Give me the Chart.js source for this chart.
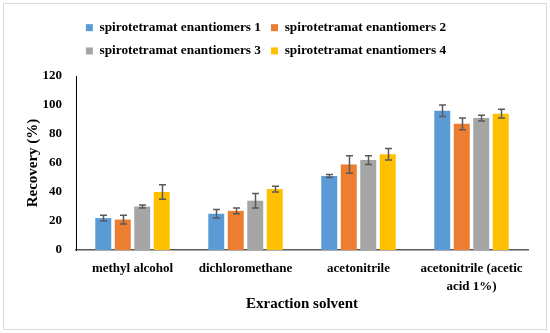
<!DOCTYPE html>
<html lang="en">
<head>
<meta charset="UTF-8">
<title>Recovery by extraction solvent</title>
<script src="https://cdn.jsdelivr.net/npm/chart.js"></script>
<style>
  html, body { margin: 0; padding: 0; background: #fff; }
  .wrap { width: 550px; height: 333px; position: relative; }
</style>
</head>
<body>
<div class="wrap"><canvas id="chart" width="550" height="333"></canvas></div>
<script>
var solvents = ['methyl alcohol', 'dichloromethane', 'acetonitrile', ['acetonitrile (acetic', 'acid 1%)']];
var seriesNames = ['spirotetramat enantiomers 1', 'spirotetramat enantiomers 2', 'spirotetramat enantiomers 3', 'spirotetramat enantiomers 4'];
var recovery1 = [22, 25, 51, 96];
var recovery2 = [21, 27, 59, 87];
var recovery3 = [30, 34, 62, 91];
var recovery4 = [40, 42, 66, 94];
var error1 = [2, 3, 1, 4];
var error2 = [3, 2, 6, 4];
var error3 = [1, 5, 3, 2];
var error4 = [5, 2, 4, 3];
var yTicks = [0, 20, 40, 60, 80, 100, 120];

var colors = ['#5B9BD5', '#ED7D31', '#A5A5A5', '#FFC000'];
var values = [recovery1, recovery2, recovery3, recovery4];
var errors = [error1, error2, error3, error4];

var datasets = seriesNames.map(function(name, i) {
  return {
    label: name,
    data: values[i],
    errors: errors[i],
    backgroundColor: colors[i],
    borderWidth: 0,
    categoryPercentage: 0.69,
    barPercentage: 0.82
  };
});

// kotak tepi luar gambar
var frame = {
  id: 'frame',
  beforeDraw: function(chart) {
    var ctx = chart.ctx;
    ctx.save();
    ctx.fillStyle = '#fff';
    ctx.fillRect(0, 0, chart.width, chart.height);
    ctx.strokeStyle = '#d9d9d9';
    ctx.lineWidth = 1;
    ctx.strokeRect(3.5, 3.5, 543, 326);
    ctx.restore();
  }
};

// tinggi legenda tetap supaya area plot mulai di y=76
var legendHeight = {
  id: 'legendHeight',
  beforeInit: function(chart) {
    var fit = chart.legend.fit;
    chart.legend.fit = function() {
      fit.call(this);
      this.height = 65;
    };
  }
};

// garis error bar
var errorBars = {
  id: 'errorBars',
  afterDatasetsDraw: function(chart) {
    var ctx = chart.ctx;
    var y = chart.scales.y;
    ctx.save();
    ctx.strokeStyle = '#595959';
    ctx.lineWidth = 1.5;
    chart.data.datasets.forEach(function(ds, i) {
      var meta = chart.getDatasetMeta(i);
      meta.data.forEach(function(bar, j) {
        var v = ds.data[j], e = ds.errors[j];
        var x = Math.round(bar.x) + 0.5;
        var top = y.getPixelForValue(v + e);
        var bot = y.getPixelForValue(v - e);
        ctx.beginPath();
        ctx.moveTo(x, top); ctx.lineTo(x, bot);
        ctx.moveTo(x - 3.5, top); ctx.lineTo(x + 3.5, top);
        ctx.moveTo(x - 3.5, bot); ctx.lineTo(x + 3.5, bot);
        ctx.stroke();
      });
    });
    ctx.restore();
  }
};

var serif = "'Liberation Serif', 'Times New Roman', serif";

new Chart(document.getElementById('chart'), {
  type: 'bar',
  data: { labels: solvents, datasets: datasets },
  plugins: [frame, legendHeight, errorBars],
  options: {
    responsive: false,
    animation: false,
    layout: { padding: { left: 4, right: 22, top: 11, bottom: 8 } },
    plugins: {
      tooltip: { enabled: false },
      legend: {
        position: 'top',
        labels: {
          font: { family: serif, size: 13.3, weight: 'bold' },
          color: '#000',
          boxWidth: 7,
          boxHeight: 7,
          padding: 10
        }
      }
    },
    scales: {
      x: {
        grid: { display: false, drawTicks: false },
        border: { color: '#595959', width: 1.5 },
        ticks: { font: { family: serif, size: 13, weight: 'bold', lineHeight: 1.35 }, color: '#000', padding: 10, maxRotation: 0 },
        title: { display: true, text: 'Exraction solvent', font: { family: serif, size: 15, weight: 'bold' }, color: '#000', padding: { top: 4, bottom: 12 } },
        afterFit: function(scale) { scale.height = 75; }
      },
      y: {
        min: 0,
        max: 120,
        afterBuildTicks: function(scale) { scale.ticks = yTicks.map(function(v) { return { value: v }; }); },
        grid: { display: false, drawTicks: false },
        border: { color: '#000', width: 1 },
        ticks: { font: { family: serif, size: 13, weight: 'bold' }, color: '#000', padding: 14 },
        title: { display: true, text: 'Recovery (%)', font: { family: serif, size: 15, weight: 'bold' }, color: '#000', padding: { top: 20, bottom: 0 } },
        afterFit: function(scale) { scale.width = 72; }
      }
    }
  }
});
</script>
</body>
</html>
